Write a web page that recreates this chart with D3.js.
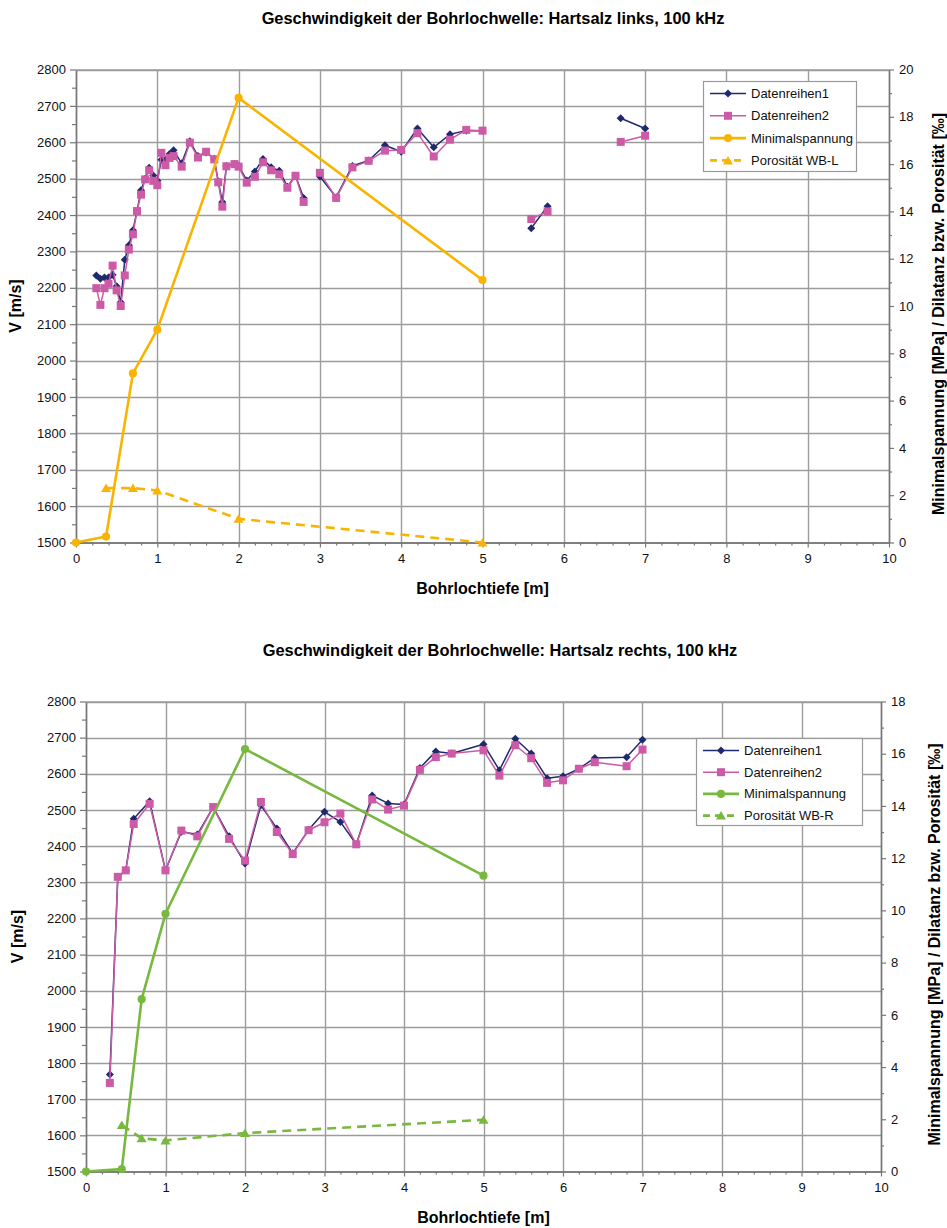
<!DOCTYPE html>
<html>
<head>
<meta charset="utf-8">
<script src="https://cdn.jsdelivr.net/npm/d3@7"></script>
<style>
  body { margin: 0; background: #fff; }
  svg { display: block; }
  text { font-family: "Liberation Sans", Arial, sans-serif; }
</style>
</head>
<body>
<svg id="chart" width="947" height="1228"></svg>
<script>
// ---------- Hartsalz links (upper panel) ----------
// null marks a break in the measured profile
const depthL = [0.25, 0.3, 0.35, 0.4, 0.45, 0.5, 0.55, 0.6, 0.65, 0.7, 0.75, 0.8, 0.85, 0.9, 0.95, 1.0,
  1.05, 1.1, 1.15, 1.2, 1.3, 1.4, 1.5, 1.6, 1.7, 1.75, 1.8, 1.85, 1.95, 2.0, 2.1, 2.2, 2.3, 2.4, 2.5, 2.6, 2.7, 2.8,
  null, 3.0, 3.2, 3.4, 3.6, 3.8, 4.0, 4.2, 4.4, 4.6, 4.8, 5.0, null, 5.6, 5.8, null, 6.7, 7.0];
const vL1 = [2234, 2225, 2228, 2228, 2236, 2204, 2160, 2277, 2317, 2358, 2411, 2468, 2500, 2530, 2509, 2495,
  2552, 2551, 2568, 2578, 2542, 2603, 2562, 2572, 2555, 2492, 2436, 2535, 2540, 2535, 2495, 2520, 2554, 2531, 2522, 2478, 2508, 2447,
  null, 2506, 2449, 2535, 2550, 2592, 2574, 2638, 2586, 2622, 2632, 2632, null, 2364, 2424, null, 2666, 2638];
const vL2 = [2199, 2153, 2199, 2211, 2261, 2193, 2150, 2234, 2305, 2347, 2411, 2456, 2498, 2523, 2494, 2482,
  2571, 2537, 2557, 2562, 2533, 2599, 2558, 2574, 2553, 2490, 2423, 2534, 2540, 2533, 2489, 2505, 2545, 2523, 2512, 2475, 2508, 2436,
  null, 2516, 2447, 2531, 2549, 2577, 2579, 2625, 2561, 2607, 2634, 2632, null, 2389, 2410, null, 2601, 2618];
const stressDepthL = [0, 0.37, 0.7, 1.0, 2.0, 5.0];
const stressL = [0, 0.25, 7.15, 9.0, 18.8, 11.1];
const poroDepthL = [0.37, 0.7, 1.0, 2.0, 5.0];
const poroL = [2.3, 2.3, 2.2, 1.0, 0.0];

// ---------- Hartsalz rechts (lower panel) ----------
const depthR = [0.3, 0.4, 0.5, 0.6, 0.8, 1.0, 1.2, 1.4, 1.6, 1.8, 2.0, 2.2, 2.4, 2.6, 2.8, 3.0, 3.2, 3.4, 3.6, 3.8,
  4.0, 4.2, 4.4, 4.6, 5.0, 5.2, 5.4, 5.6, 5.8, 6.0, 6.2, 6.4, 6.8, 7.0];
const vR1 = [1768, 2315, 2333, 2476, 2524, 2333, 2440, 2432, 2508, 2427, 2352, 2513, 2449, 2380, 2445, 2495, 2467, 2405, 2540, 2518,
  2515, 2616, 2662, 2656, 2682, 2610, 2697, 2656, 2588, 2593, 2614, 2644, 2646, 2694];
const vR2 = [1745, 2315, 2333, 2461, 2517, 2333, 2443, 2427, 2508, 2420, 2360, 2522, 2439, 2378, 2444, 2466, 2490, 2405, 2529, 2501,
  2512, 2611, 2646, 2656, 2665, 2595, 2679, 2643, 2575, 2582, 2614, 2632, 2621, 2667];
const stressDepthR = [0, 0.45, 0.7, 1.0, 2.0, 5.0];
const stressR = [0, 0.09, 6.6, 9.87, 16.18, 11.33];
const poroDepthR = [0.45, 0.7, 1.0, 2.0, 5.0];
const poroR = [1.78, 1.27, 1.19, 1.47, 1.98];

// ---------- axis ticks and labels ----------
const depthTicks = d3.range(0, 11, 1);
const velocityTicks = d3.range(1500, 2801, 100);
const seriesNames = ["Datenreihen1", "Datenreihen2", "Minimalspannung"];
const xTitle = "Bohrlochtiefe [m]";
const yTitle = "V [m/s]";
const y2Title = "Minimalspannung [MPa] / Dilatanz bzw. Porosität [‰]";

const NAVY = "#1f2a6e", PINK = "#cc5aa6", GRID = "#9c9c9c", AXIS = "#777";

const svg = d3.select("#chart");

function pts(xs, vs) { return xs.map((d, i) => ({ x: d, v: vs[i] })); }

function markerPath(kind) {
  if (kind === "diamond") return "M0,-4L4,0L0,4L-4,0Z";
  if (kind === "square") return "M-4,-4H4V4H-4Z";
  if (kind === "triangle") return "M0,-4.5L5,4L-5,4Z";
  return d3.symbol(d3.symbolCircle, 52)();
}

function drawPanel(p) {
  const g = svg.append("g");
  const x = d3.scaleLinear().domain([0, 10]).range([p.left, p.right]);
  const y = d3.scaleLinear().domain([1500, 2800]).range([p.bottom, p.top]);
  const y2 = d3.scaleLinear().domain([0, p.rightMax]).range([p.bottom, p.top]);

  // grid
  g.append("g").selectAll("line").data(velocityTicks.slice(1)).join("line")
    .attr("x1", p.left).attr("x2", p.right)
    .attr("y1", d => Math.round(y(d)) + 0.5).attr("y2", d => Math.round(y(d)) + 0.5)
    .attr("stroke", GRID).attr("stroke-width", 1.4);
  g.append("g").selectAll("line").data(depthTicks.slice(1, -1)).join("line")
    .attr("x1", d => Math.round(x(d)) + 0.5).attr("x2", d => Math.round(x(d)) + 0.5)
    .attr("y1", p.top).attr("y2", p.bottom)
    .attr("stroke", GRID).attr("stroke-width", 1.4);

  const styleAxis = sel => {
    sel.selectAll("path.domain").attr("stroke", AXIS).attr("stroke-width", 1.4);
    sel.selectAll(".tick line").attr("stroke", AXIS).attr("stroke-width", 1.2);
    sel.selectAll("text").attr("font-size", 13).attr("fill", "#111")
      .attr("font-family", "'Liberation Sans', Arial, sans-serif");
  };

  // left axis
  g.append("g").attr("transform", `translate(${p.left},0)`)
    .call(d3.axisLeft(y).tickValues(velocityTicks).tickSize(6).tickSizeOuter(0).tickPadding(4).tickFormat(d3.format("d")))
    .call(styleAxis);
  g.append("g").attr("transform", `translate(${p.left},0)`)
    .call(d3.axisLeft(y).tickValues(d3.range(1550, 2800, 100)).tickSize(4).tickSizeOuter(0).tickFormat(""))
    .call(styleAxis);

  // right axis
  g.append("g").attr("transform", `translate(${p.right},0)`)
    .call(d3.axisRight(y2).tickValues(d3.range(0, p.rightMax + 1, 2)).tickSize(5).tickSizeOuter(0).tickPadding(5))
    .call(styleAxis);
  g.append("g").attr("transform", `translate(${p.right},0)`)
    .call(d3.axisRight(y2).tickValues(d3.range(1, p.rightMax, 2)).tickSize(3).tickSizeOuter(0).tickFormat(""))
    .call(styleAxis);

  // bottom axis
  g.append("g").attr("transform", `translate(0,${p.bottom})`)
    .call(d3.axisBottom(x).tickValues(depthTicks).tickSize(5).tickSizeOuter(0).tickPadding(6))
    .call(styleAxis);
  g.append("g").attr("transform", `translate(0,${p.bottom})`)
    .call(d3.axisBottom(x).tickValues(d3.range(0, 10.01, 0.2).filter(v => Math.abs(v - Math.round(v)) > 0.01))
      .tickSize(3).tickSizeOuter(0).tickFormat(""))
    .call(styleAxis);

  // top frame line
  g.append("line").attr("x1", p.left).attr("x2", p.right).attr("y1", p.top + 0.5).attr("y2", p.top + 0.5)
    .attr("stroke", GRID).attr("stroke-width", 1.4);

  // series
  const lineV = d3.line().defined(d => d.x != null && d.v != null).x(d => x(d.x)).y(d => y(d.v));
  const lineS = d3.line().x(d => x(d.x)).y(d => y2(d.v));

  const series = [
    { data: pts(p.depth, p.v1), line: lineV, yy: y, color: NAVY, w: 1.5, marker: "diamond" },
    { data: pts(p.depth, p.v2), line: lineV, yy: y, color: PINK, w: 1.5, marker: "square" },
    { data: pts(p.stressDepth, p.stress), line: lineS, yy: y2, color: p.color, w: 2.6, marker: "circle" },
    { data: pts(p.poroDepth, p.poro), line: lineS, yy: y2, color: p.color, w: 2.6, marker: "triangle", dash: "9,6" }
  ];
  series.forEach(s => {
    g.append("path").datum(s.data).attr("d", s.line)
      .attr("fill", "none").attr("stroke", s.color).attr("stroke-width", s.w)
      .attr("stroke-dasharray", s.dash || null).attr("stroke-linejoin", "round");
    g.append("g").selectAll("path").data(s.data.filter(d => d.x != null && d.v != null)).join("path")
      .attr("transform", d => `translate(${x(d.x)},${s.yy(d.v)})`)
      .attr("d", markerPath(s.marker)).attr("fill", s.color);
  });

  // titles
  svg.append("text").attr("x", p.titleX).attr("y", p.titleY).attr("text-anchor", "middle")
    .attr("font-size", 16.4).attr("font-weight", "bold").text(p.title);
  svg.append("text").attr("x", (p.left + p.right) / 2).attr("y", p.bottom + 51).attr("text-anchor", "middle")
    .attr("font-size", 16).attr("font-weight", "bold").text(xTitle);
  svg.append("text").attr("transform", `translate(${p.yTitleX},${(p.top + p.bottom) / 2}) rotate(-90)`)
    .attr("text-anchor", "middle").attr("font-size", 16).attr("font-weight", "bold").text(yTitle);
  svg.append("text").attr("transform", `translate(${p.y2TitleX},${(p.top + p.bottom) / 2 + 8}) rotate(-90)`)
    .attr("text-anchor", "middle").attr("font-size", 16).attr("font-weight", "bold").text(y2Title);

  // legend
  const lg = svg.append("g").attr("transform", `translate(${p.legend.x},${p.legend.y})`);
  lg.append("rect").attr("x", 0.5).attr("y", 0.5).attr("width", p.legend.w).attr("height", p.legend.h)
    .attr("fill", "#fff").attr("stroke", "#9a9a9a").attr("stroke-width", 1.2);
  const names = seriesNames.concat([p.poroName]);
  names.forEach((n, i) => {
    const s = series[i];
    const cy = 12.5 + i * p.legend.step;
    lg.append("line").attr("x1", 7).attr("x2", 43).attr("y1", cy).attr("y2", cy)
      .attr("stroke", s.color).attr("stroke-width", s.w).attr("stroke-dasharray", s.dash ? "7,5" : null);
    lg.append("path").attr("transform", `translate(25,${cy})`).attr("d", markerPath(s.marker)).attr("fill", s.color);
    lg.append("text").attr("x", 48).attr("y", cy + 4.5).attr("font-size", 13).attr("fill", "#111").text(n);
  });
}

drawPanel({
  title: "Geschwindigkeit der Bohrlochwelle: Hartsalz links, 100 kHz", titleX: 493, titleY: 24,
  left: 76, right: 889, top: 69.5, bottom: 542.5, rightMax: 20, color: "#f8b400",
  depth: depthL, v1: vL1, v2: vL2, stressDepth: stressDepthL, stress: stressL,
  poroDepth: poroDepthL, poro: poroL, poroName: "Porosität WB-L",
  yTitleX: 21, y2TitleX: 944,
  legend: { x: 703, y: 81, w: 153, h: 90, step: 22.3 }
});

drawPanel({
  title: "Geschwindigkeit der Bohrlochwelle: Hartsalz rechts, 100 kHz", titleX: 500, titleY: 656,
  left: 86, right: 881, top: 701.5, bottom: 1171.5, rightMax: 18, color: "#77b83e",
  depth: depthR, v1: vR1, v2: vR2, stressDepth: stressDepthR, stress: stressR,
  poroDepth: poroDepthR, poro: poroR, poroName: "Porosität WB-R",
  yTitleX: 23, y2TitleX: 940,
  legend: { x: 696, y: 738, w: 166, h: 87, step: 21.7 }
});
</script>
</body>
</html>
